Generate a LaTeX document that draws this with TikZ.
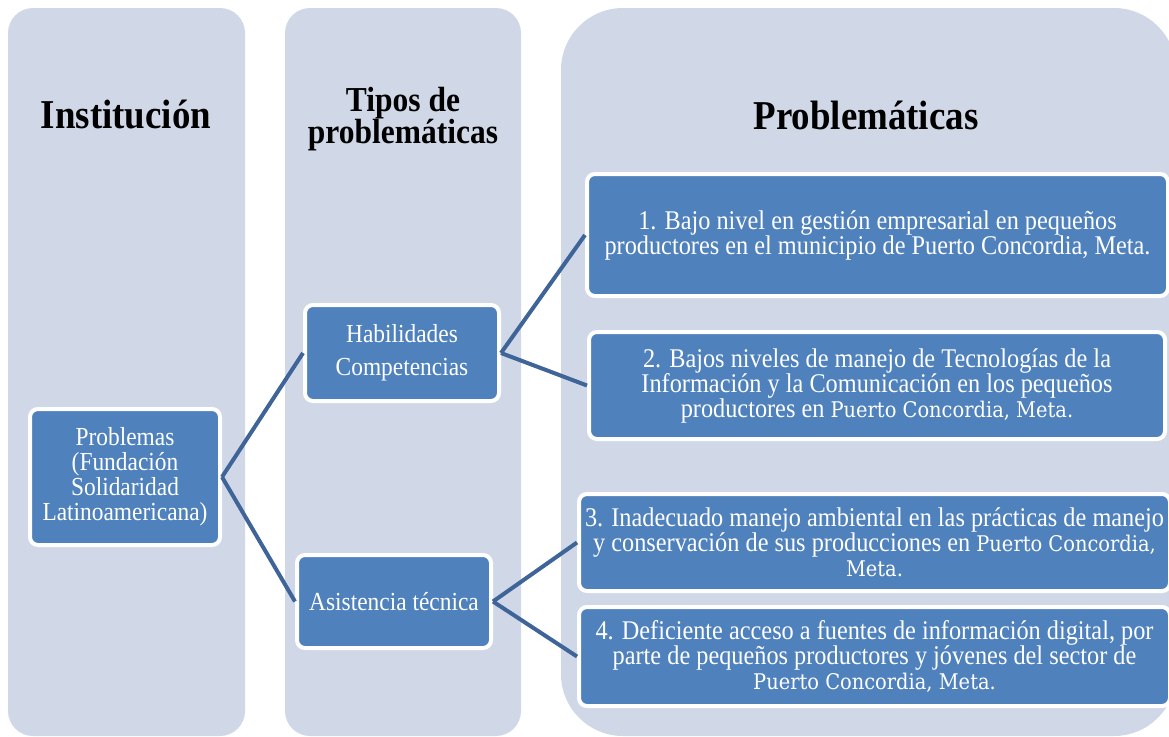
\documentclass[tikz,border=0pt]{standalone}
\usepackage{fontspec}
\setmainfont{Liberation Serif}[FakeStretch=0.9]
\newfontfamily\camfont{DejaVu Serif}[Scale=0.8,FakeStretch=0.9]
\definecolor{colfill}{RGB}{208,216,232}
\definecolor{boxblue}{RGB}{79,129,189}
\definecolor{linkblue}{RGB}{62,100,152}
\tikzset{
 colbox/.style={fill=colfill,draw=none},
 probbox/.style={draw=white,line width=4pt,fill=boxblue,rounded corners=8pt,text=white,align=center,inner sep=0pt,font=\fontsize{27}{25}\selectfont},
 coltitle/.style={align=center,font=\bfseries\fontsize{41}{34}\selectfont},
 link/.style={draw=linkblue,line width=4pt}
}
\begin{document}
\begin{tikzpicture}[x=1pt,y=-1pt]
\useasboundingbox (0,0) rectangle (1169,736);
\clip (0,0) rectangle (1169,736);
\foreach \xa/\xb/\rc in {8/245/25,285/521/25,561/1176/62}{\fill[colbox,rounded corners=\rc pt](\xa,8)rectangle(\xb,736);}
\node[coltitle] (tinst) at (126,115) {Institución};
\node[coltitle,font=\bfseries\fontsize{35}{32}\selectfont] (ttipos) at (403,119) {Tipos de\\problemáticas};
\node[coltitle] (tprob) at (866,115) {Problemáticas};
% boxes
\node[probbox,minimum width=190pt,minimum height=136pt,font=\fontsize{26}{25}\selectfont] (inst) at (125,477) {Problemas\\(Fundación\\Solidaridad\\Latinoamericana)};
\node[probbox,minimum width=194pt,minimum height=96pt,font=\fontsize{26}{33}\selectfont] (hab) at (402,353) {Habilidades\\Competencias};
\node[probbox,minimum width=194pt,minimum height=93pt,font=\fontsize{26}{25}\selectfont] (asis) at (394,601.5) {Asistencia técnica};
\node[probbox,minimum width=581pt,minimum height=122pt] (p1) at (877.5,235) {1. Bajo nivel en gestión empresarial en pequeños\\productores en el municipio de Puerto Concordia, Meta.};
\node[probbox,minimum width=576pt,minimum height=107pt] (p2) at (877,385.5) {2. Bajos niveles de manejo de Tecnologías de la\\Información y la Comunicación en los pequeños\\productores en {\camfont Puerto Concordia, Meta.}};
\node[probbox,minimum width=591pt,minimum height=97pt] (p3) at (874.5,542.5) {3. Inadecuado manejo ambiental en las prácticas de manejo\\y conservación de sus producciones en {\camfont Puerto Concordia,}\\{\camfont Meta.}};
\node[probbox,minimum width=591pt,minimum height=99pt] (p4) at (874.5,656.5) {4. Deficiente acceso a fuentes de información digital, por\\parte de pequeños productores y jóvenes del sector de\\{\camfont Puerto Concordia, Meta.}};
\foreach \a/\b in {inst/hab,inst/asis,hab/p1,hab/p2,asis/p3,asis/p4}{\draw[link](\a.east)--(\b.west);}
\end{tikzpicture}
\end{document}
